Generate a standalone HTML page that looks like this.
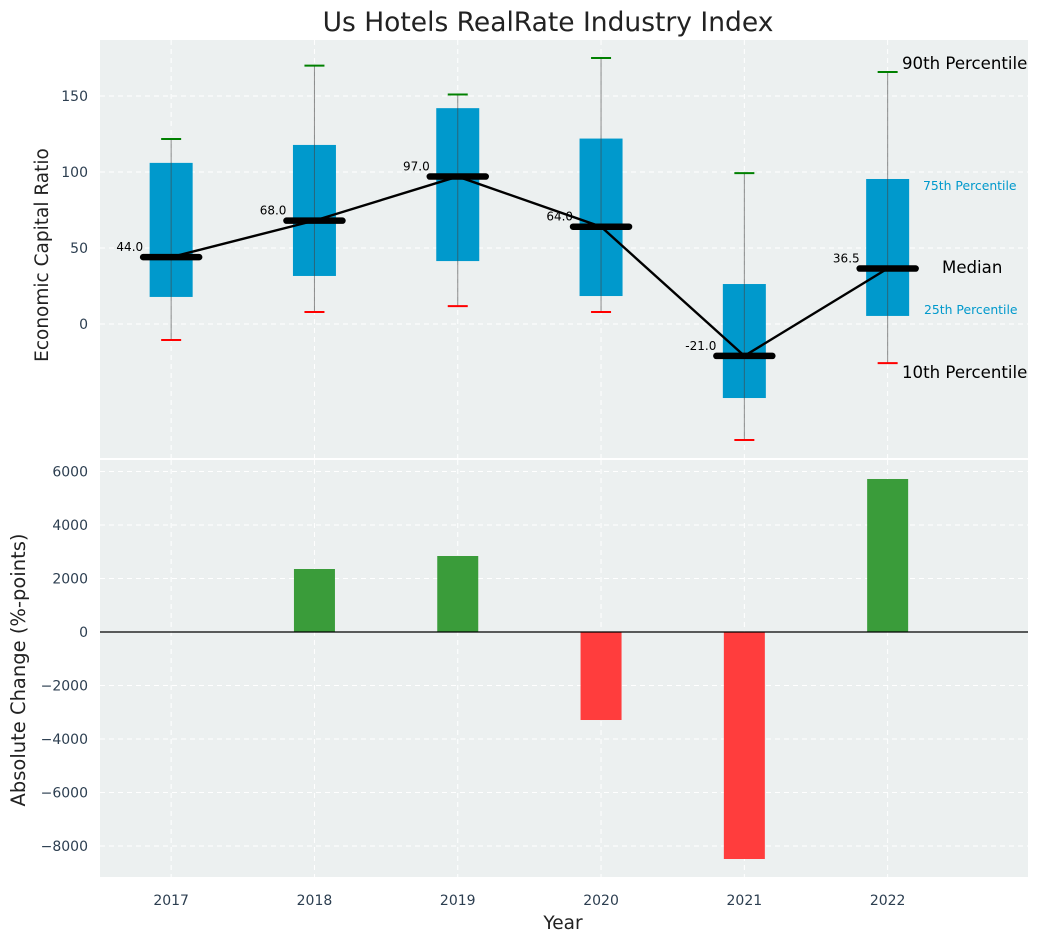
<!DOCTYPE html>
<html><head><meta charset="utf-8"><style>
body{margin:0;background:#fff;font-family:"Liberation Sans","DejaVu Sans",sans-serif;}
svg text{font-family:"DejaVu Sans","Liberation Sans",sans-serif;}
</style></head><body>
<svg id="chart" width="1039" height="942" xmlns="http://www.w3.org/2000/svg"></svg>
<script>
const years=['2017','2018','2019','2020','2021','2022'];
const p10=[-10.5,7.9,11.8,7.9,-76.3,-25.7];
const q1=[17.8,31.6,41.4,18.4,-48.7,5.3];
const med=[44,68,97,64,-21,36.5];
const q3=[106,117.8,142,122,26.3,95.4];
const p90=[121.7,170,151,175,99.3,165.8];
const changes=[0,2355,2841,-3290,-8486,5720];
const topTicks=[0,50,100,150];
const botTicks=[-8000,-6000,-4000,-2000,0,2000,4000,6000];

const NS='http://www.w3.org/2000/svg';
const svg=document.getElementById('chart');
function el(t,a,p){const e=document.createElementNS(NS,t);for(const k in a)e.setAttribute(k,a[k]);(p||svg).appendChild(e);return e;}
const L=100,R=1028;
const X=i=>L+(i+0.5)*143.3-0.5;
const YT=v=>324-v*1.52;
const YB=v=>632-v*0.02675;

let bg=el('rect',{x:L,y:40,width:R-L,height:418,fill:'#ecf0f0'});

let bg2=el('rect',{x:L,y:460,width:R-L,height:417,fill:'#ecf0f0'});


years.forEach((y,i)=>{
  el('line',{x1:X(i),x2:X(i),y1:40,y2:458,stroke:'#fff','stroke-dasharray':'5,4','stroke-width':1});
  el('line',{x1:X(i),x2:X(i),y1:460,y2:877,stroke:'#fff','stroke-dasharray':'5,4','stroke-width':1});
  let t=el('text',{x:X(i),y:905,'text-anchor':'middle','font-size':14,fill:'#2c3e50'});t.textContent=y;
  
});
topTicks.forEach(v=>{
  el('line',{x1:L,x2:R,y1:YT(v),y2:YT(v),stroke:'#fff','stroke-dasharray':'5,4'});
  let t=el('text',{x:88,y:YT(v)+5,'text-anchor':'end','font-size':14,fill:'#2c3e50'});t.textContent=v;
  
});
botTicks.forEach(v=>{
  el('line',{x1:L,x2:R,y1:YB(v),y2:YB(v),stroke:'#fff','stroke-dasharray':'5,4'});
  let t=el('text',{x:88,y:YB(v)+5,'text-anchor':'end','font-size':14,fill:'#2c3e50'});t.textContent=String(v).replace('-','−');
  
});

years.forEach((y,i)=>{
  const x=X(i);
  let b=el('rect',{x:x-21.5,y:YT(q3[i]),width:43,height:YT(q1[i])-YT(q3[i]),fill:'#0099cc'});
  
  el('line',{x1:x,x2:x,y1:YT(p10[i]),y2:YT(p90[i]),stroke:'#444','stroke-opacity':0.6,'stroke-width':1});
  let c1=el('line',{x1:x-10,x2:x+10,y1:YT(p90[i]),y2:YT(p90[i]),stroke:'green','stroke-width':2});
  
  let c2=el('line',{x1:x-10,x2:x+10,y1:YT(p10[i]),y2:YT(p10[i]),stroke:'red','stroke-width':2});
  
});
let pts=years.map((y,i)=>X(i)+','+YT(med[i])).join(' ');
let ml=el('polyline',{points:pts,fill:'none',stroke:'#000','stroke-width':2.4});

years.forEach((y,i)=>{
  const x=X(i);
  let m=el('line',{x1:x-28,x2:x+28,y1:YT(med[i]),y2:YT(med[i]),stroke:'#000','stroke-width':6.5,'stroke-linecap':'round'});
  
  let t=el('text',{x:x-28,y:YT(med[i])-6,'text-anchor':'end','font-size':12,fill:'#000'});t.textContent=med[i].toFixed(1);
  
});

[['90th Percentile',902,69,16.6,'#000'],['75th Percentile',923,190,12.4,'#0099cc'],['Median',942,273,16.6,'#000'],['25th Percentile',924,314,12.4,'#0099cc'],['10th Percentile',902,378,16.6,'#000']].forEach(a=>{
  let t=el('text',{x:a[1],y:a[2],'font-size':a[3],fill:a[4]});t.textContent=a[0];
  
});

years.forEach((y,i)=>{
  const v=changes[i];if(v===0)return;
  const y0=YB(Math.max(v,0)),h=Math.abs(YB(v)-YB(0));
  let b=el('rect',{x:X(i)-20.5,y:y0,width:41,height:h,fill:v>0?'#3a9c3a':'#ff3d3d'});
  
});
el('line',{x1:L,x2:R,y1:YB(0),y2:YB(0),stroke:'#000','stroke-width':1.2});

let tt=el('text',{x:548,y:31,'text-anchor':'middle','font-size':26.5,fill:'#222'});tt.textContent='Us Hotels RealRate Industry Index';

let yl=el('text',{x:0,y:0,'text-anchor':'middle','font-size':18.5,fill:'#222',transform:'translate(48,255) rotate(-90)'});yl.textContent='Economic Capital Ratio';

let yl2=el('text',{x:0,y:0,'text-anchor':'middle','font-size':19.5,fill:'#222',transform:'translate(25,670) rotate(-90)'});yl2.textContent='Absolute Change (%-points)';

let xl=el('text',{x:563,y:929,'text-anchor':'middle','font-size':18.5,fill:'#222'});xl.textContent='Year';

</script>
</body></html>
